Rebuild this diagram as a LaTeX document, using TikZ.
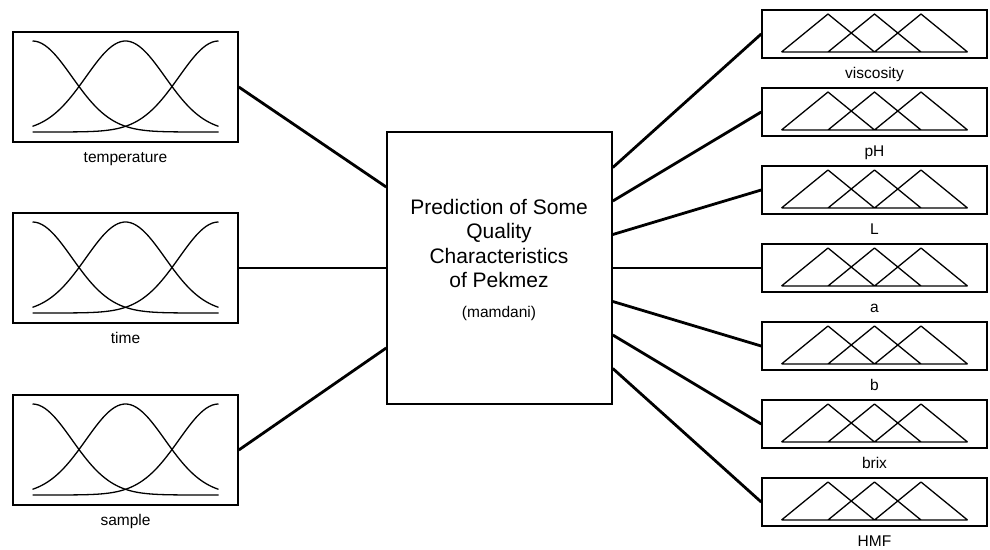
\documentclass[tikz,border=0pt]{standalone}
\usepackage{fontspec}
\setmainfont{Liberation Sans}
\usetikzlibrary{positioning}

\begin{document}
\begin{tikzpicture}[x=1pt,y=-1pt,
  inbox/.style={draw,line width=1.6pt,minimum width=225pt,minimum height=110pt,inner sep=0pt},
  outbox/.style={draw,line width=1.6pt,minimum width=225pt,minimum height=48pt,inner sep=0pt},
  mf/.style={line width=1.3pt,line join=round},
  link/.style={line width=2.8pt},
  lbl/.style={anchor=base,inner sep=1pt,font=\fontsize{15.5}{18}\selectfont}
]
  \useasboundingbox (0,0) rectangle (990,549);

  % inputs with gaussian membership functions
  \foreach \n/\y/\txt in {temp/87/temperature, time/268/time, sample/450/sample}{
    \node[inbox] (\n) at (125.5,\y) {};
    \node[lbl] (\n-lbl) at ([yshift=-20pt]\n.south) {\txt};
    \foreach \c in {-93,0,93}
      \draw[mf,shift={(\n.center)}] plot[domain=-93:93,samples=60,smooth]
        (\x,{45-91*exp(-0.5*((\x-(\c))/39.5)*((\x-(\c))/39.5))});
  }

  % the inference system
  \node[draw,line width=1.6pt,minimum width=225pt,minimum height=272pt] (fis) at (499.5,268) {};
  \node[font=\fontsize{21}{24.3}\selectfont,align=center,anchor=north,inner sep=0pt] (title)
    at (499,199) {Prediction of Some\\Quality\\Characteristics\\of Pekmez};
  \node[lbl] (method) at (499,317) {(mamdani)};

  \draw[link] (temp.east) -- ([yshift=81pt]fis.west);
  \draw[link] (time.east) -- (fis.west);
  \draw[link] (sample.east) -- ([yshift=-80pt]fis.west);

  % outputs with triangular membership functions
  \foreach \n/\txt [count=\i] in {visc/viscosity, ph/pH, L/L, a/a, b/b, brix/brix, hmf/HMF}{
    \node[outbox] (\n) at (874.5,{34+(\i-1)*78}) {};
    \node[lbl] (\n-lbl) at ([yshift=-20pt]\n.south) {\txt};
    \draw[mf,shift={(\n.center)}] (-93,18) -- (93,18)
      (-93,18) -- (-46.5,-20) -- (0,18) (-46.5,18) -- (0,-20) -- (46.5,18)
      (0,18) -- (46.5,-20) -- (93,18);
    \draw[link] ([yshift={(4-\i)*33.5pt}]fis.east) -- (\n.west);
  }
\end{tikzpicture}
\end{document}
